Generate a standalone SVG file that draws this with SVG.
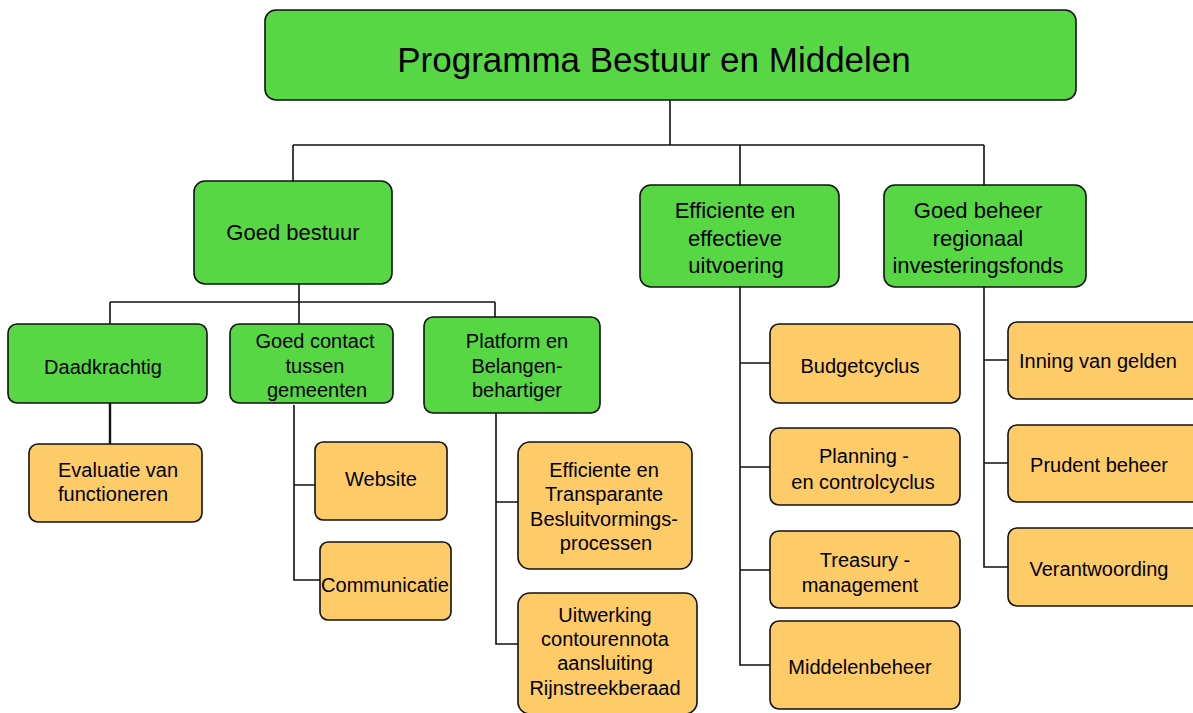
<svg xmlns="http://www.w3.org/2000/svg" width="1193" height="713" viewBox="0 0 1193 713">
<style>
.g{fill:#58D745;stroke:#111;stroke-width:1.6}
.o{fill:#FECB69;stroke:#111;stroke-width:1.6}
text{font-family:"Liberation Sans",Arial,sans-serif;fill:#000;text-anchor:middle}
.t20{font-size:20px}
.t22{font-size:22px}
.c{fill:none;stroke:#111;stroke-width:1.6}
</style>
<rect width="1193" height="713" fill="#fff"/>
<g id="connectors" class="c">
<path d="M670,100 V145 M293,145 H984 M293,145 V181 M740,145 V185 M984,145 V185"/>
<path d="M299,284 V324 M110,302 H495 M110,302 V324 M495,302 V317"/>
<path d="M110,403 V444" stroke-width="2.4"/>
<path d="M294,405 V580 H320 M294,485 H315"/>
<path d="M496,413 V644 H518 M496,502 H518"/>
<path d="M740,287 V665 H770 M740,363 H770 M740,467 H770 M740,570 H770"/>
<path d="M984,287 V567 H1008 M984,360 H1008 M984,463 H1008"/>
</g>
<g id="root"><rect class="g" x="265" y="10" width="811" height="90" rx="11"/><text x="654" y="72" style="font-size:35px">Programma Bestuur en Middelen</text></g>
<g id="goed-bestuur"><rect class="g" x="194" y="181" width="198" height="103" rx="11"/><text class="t22" x="293" y="240">Goed bestuur</text></g>
<g id="efficiente-uitvoering"><rect class="g" x="640" y="185" width="199" height="102" rx="11"/><text class="t22" x="735" y="218">Efficiente en</text><text class="t22" x="735" y="246">effectieve</text><text class="t22" x="736" y="273">uitvoering</text></g>
<g id="goed-beheer"><rect class="g" x="884" y="185" width="202" height="102" rx="11"/><text class="t22" x="978" y="218">Goed beheer</text><text class="t22" x="978" y="246">regionaal</text><text class="t22" x="978" y="273">investeringsfonds</text></g>
<g id="daadkrachtig"><rect class="g" x="8" y="324" width="199" height="79" rx="9"/><text class="t20" x="103" y="374">Daadkrachtig</text></g>
<g id="goed-contact"><rect class="g" x="230" y="324" width="163" height="79" rx="9"/><text class="t20" x="315" y="348">Goed contact</text><text class="t20" x="315" y="373">tussen</text><text class="t20" x="317" y="397">gemeenten</text></g>
<g id="platform"><rect class="g" x="424" y="317" width="176" height="96" rx="9"/><text class="t20" x="517" y="348">Platform en</text><text class="t20" x="517" y="373">Belangen-</text><text class="t20" x="517" y="397">behartiger</text></g>
<g id="evaluatie"><rect class="o" x="29" y="444" width="173" height="78" rx="9"/><text class="t20" x="58" y="477" style="text-anchor:start">Evaluatie van</text><text class="t20" x="58" y="501" style="text-anchor:start">functioneren</text></g>
<g id="website"><rect class="o" x="315" y="442" width="132" height="78" rx="8"/><text class="t20" x="381" y="486">Website</text></g>
<g id="communicatie"><rect class="o" x="320" y="542" width="131" height="78" rx="8"/><text class="t20" x="385" y="592">Communicatie</text></g>
<g id="besluitvorming"><rect class="o" x="518" y="442" width="174" height="127" rx="12"/><text class="t20" x="604" y="477">Efficiente en</text><text class="t20" x="604" y="501">Transparante</text><text class="t20" x="604" y="526">Besluitvormings-</text><text class="t20" x="606" y="550">processen</text></g>
<g id="uitwerking"><rect class="o" x="518" y="593" width="179" height="121" rx="12"/><text class="t20" x="605" y="622">Uitwerking</text><text class="t20" x="605" y="646">contourennota</text><text class="t20" x="605" y="670">aansluiting</text><text class="t20" x="605" y="695">Rijnstreekberaad</text></g>
<g id="budgetcyclus"><rect class="o" x="770" y="324" width="190" height="79" rx="9"/><text class="t20" x="860" y="373">Budgetcyclus</text></g>
<g id="planning"><rect class="o" x="770" y="428" width="190" height="77" rx="9"/><text class="t20" x="864" y="463">Planning -</text><text class="t20" x="863" y="489">en controlcyclus</text></g>
<g id="treasury"><rect class="o" x="770" y="531" width="190" height="77" rx="9"/><text class="t20" x="865" y="567">Treasury -</text><text class="t20" x="860" y="592">management</text></g>
<g id="middelenbeheer"><rect class="o" x="770" y="621" width="190" height="88" rx="9"/><text class="t20" x="860" y="674">Middelenbeheer</text></g>
<g id="inning"><rect class="o" x="1008" y="322" width="195" height="77" rx="9"/><text class="t20" x="1098" y="368">Inning van gelden</text></g>
<g id="prudent"><rect class="o" x="1008" y="425" width="195" height="77" rx="9"/><text class="t20" x="1099" y="472">Prudent beheer</text></g>
<g id="verantwoording"><rect class="o" x="1008" y="528" width="195" height="78" rx="9"/><text class="t20" x="1099" y="576">Verantwoording</text></g>
</svg>
